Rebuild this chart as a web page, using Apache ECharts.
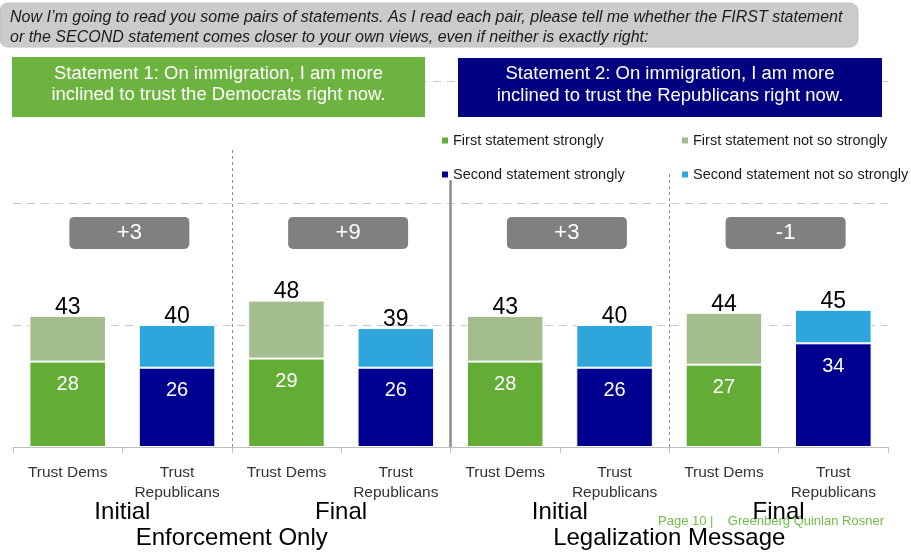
<!DOCTYPE html>
<html>
<head>
<meta charset="utf-8">
<script src="https://cdn.jsdelivr.net/npm/echarts@6/dist/echarts.min.js"></script>
<style>html,body{margin:0;padding:0;background:#fff}#c{width:911px;height:553px}</style>
</head>
<body>
<div id="c"></div>
<script>
const categories = ['Trust Dems','Trust\nRepublicans','Trust Dems','Trust\nRepublicans','Trust Dems','Trust\nRepublicans','Trust Dems','Trust\nRepublicans'];
const phaseLabels = ['Initial','Final','Initial','Final'];
const groupLabels = ['Enforcement Only','Legalization Message'];
const demStrong = [28, null, 29, null, 28, null, 27, null];
const demNotSo  = [15, null, 19, null, 15, null, 17, null];
const repStrong = [null, 26, null, 26, null, 26, null, 34];
const repNotSo  = [null, 14, null, 13, null, 14, null, 11];
const totals    = [43, 40, 48, 39, 43, 40, 44, 45];
const margins   = ['+3', '+9', '+3', '-1'];
const legendNames = ['First statement strongly','First statement not so strongly','Second statement strongly','Second statement not so strongly'];
const headerLines = ['Now I\u2019m going to read you some pairs of statements. As I read each pair, please tell me whether the FIRST statement',
                     'or the SECOND statement comes closer to your own views, even if neither is exactly right:'];
const statement1 = 'Statement 1: On immigration, I am more\ninclined to trust the Democrats right now.';
const statement2 = 'Statement 2: On immigration, I am more\ninclined to trust the Republicans right now.';
const footer = 'Page 10 |    Greenberg Quinlan Rosner';

const FONT = "'Liberation Sans', Arial, sans-serif";
const colors = ['#63AD37', '#A3BD8F', '#000090', '#2EA6DC'];
const chart = echarts.init(document.getElementById('c'), null, {renderer: 'canvas'});

function barSeries(name, data, color, label) {
  return {
    name: name, type: 'bar', stack: 'a', barWidth: '70%', data: data,
    xAxisIndex: 0, yAxisIndex: 0,
    itemStyle: {color: color, borderColor: '#fff', borderWidth: 1},
    label: label, animation: false
  };
}
const innerLabel = {show: true, position: 'insideTop', distance: 13, color: '#fff', fontSize: 20, fontFamily: FONT};
const totalLabel = {show: true, position: 'top', distance: -3, color: '#000', fontSize: 23, fontFamily: FONT,
  formatter: p => totals[p.dataIndex]};

const legendPos = [[440, 133], [680, 133], [440, 167], [680, 167]];
const legends = legendNames.map((n, i) => ({
  left: legendPos[i][0], top: legendPos[i][1], padding: 0, data: [n],
  icon: 'rect', itemWidth: 8, itemHeight: 8, itemGap: 4, selectedMode: false,
  textStyle: {fontSize: 14.5, color: '#1a1a1a', fontFamily: FONT, padding: [0, 0, 0, -1]}
}));

const option = {
  animation: false,
  textStyle: {fontFamily: FONT},
  grid: {left: 13, right: 23, top: 81, bottom: 106},
  legend: legends,
  xAxis: [
    {type: 'category', data: categories, gridIndex: 0, position: 'bottom',
     axisLine: {lineStyle: {color: '#BFBFBF'}},
     axisTick: {show: true, length: 6, lineStyle: {color: '#BFBFBF'}},
     axisLabel: {fontSize: 15.5, color: '#333', lineHeight: 20, margin: 16, fontFamily: FONT, interval: 0}},
    {type: 'category', data: phaseLabels, gridIndex: 0, position: 'bottom',
     axisLine: {show: false}, axisTick: {show: false},
     axisLabel: {fontSize: 24, color: '#000', margin: 53, fontFamily: FONT, interval: 0}},
    {type: 'category', data: groupLabels, gridIndex: 0, position: 'bottom',
     axisLine: {show: false}, axisTick: {show: false},
     axisLabel: {fontSize: 24, color: '#000', margin: 79, fontFamily: FONT, interval: 0}},
    {type: 'value', min: 0, max: 8, show: false, gridIndex: 0}
  ],
  yAxis: [{type: 'value', min: 0, max: 120, interval: 40,
    axisLine: {show: false}, axisTick: {show: false}, axisLabel: {show: false},
    splitLine: {show: true, lineStyle: {color: '#C8C8C8', type: [8, 6], width: 1}}}],
  series: [
    barSeries(legendNames[0], demStrong, colors[0], innerLabel),
    barSeries(legendNames[1], demNotSo, colors[1], totalLabel),
    barSeries(legendNames[2], repStrong, colors[2], innerLabel),
    barSeries(legendNames[3], repNotSo, colors[3], totalLabel),
    {
      type: 'scatter', xAxisIndex: 3, yAxisIndex: 0, silent: true, z: 5,
      data: margins.map((m, i) => [2 * i + 1, 70.2, m]),
      symbol: 'rect', symbolSize: 0,
      itemStyle: {color: '#808080', opacity: 1},
      label: {show: true, position: 'inside', offset: [7, 0], color: '#fff', fontSize: 22, fontFamily: FONT,
        backgroundColor: '#808080', borderRadius: 5, width: 120, height: 32, lineHeight: 32, align: 'center',
        verticalAlign: 'middle', formatter: p => p.data[2]},
      markLine: {
        silent: true, symbol: 'none', label: {show: false}, animation: false,
        data: [
          [{coord: [2, 0], lineStyle: {color: '#8C8C8C', type: [3, 3], width: 1}}, {coord: [2, 98]}],
          [{coord: [4, 0], lineStyle: {color: '#8C8C8C', type: 'solid', width: 2.5}}, {coord: [4, 87.5]}],
          [{coord: [6, 0], lineStyle: {color: '#8C8C8C', type: [3, 3], width: 1}}, {coord: [6, 90]}]
        ]
      }
    }
  ],
  graphic: [
    {type: 'rect', z: 10, shape: {x: 0, y: 3, width: 858, height: 44, r: 8},
     style: {fill: '#CBCBCB', stroke: '#C0C0C0', lineWidth: 1}},
    {type: 'text', z: 11, left: 10, top: 8,
     style: {text: headerLines.join('\n'), font: 'italic 16px ' + FONT, lineHeight: 20, fill: '#1a1a1a'}},
    {type: 'rect', z: 10, shape: {x: 12, y: 57, width: 413, height: 60}, style: {fill: '#6DB33F'}},
    {type: 'text', z: 11, x: 218.5, y: 84,
     style: {text: statement1, font: '18.5px ' + FONT, lineHeight: 21, fill: '#fff', align: 'center', verticalAlign: 'middle'}},
    {type: 'rect', z: 10, shape: {x: 458, y: 58, width: 424, height: 59}, style: {fill: '#000080'}},
    {type: 'text', z: 11, x: 670, y: 85,
     style: {text: statement2, font: '18.5px ' + FONT, lineHeight: 22, fill: '#fff', align: 'center', verticalAlign: 'middle'}},
    {type: 'text', z: -1, left: 658, top: 515,
     style: {text: footer, font: '13px ' + FONT, fill: '#6DBE45'}}
  ]
};
chart.setOption(option);
</script>
</body>
</html>
